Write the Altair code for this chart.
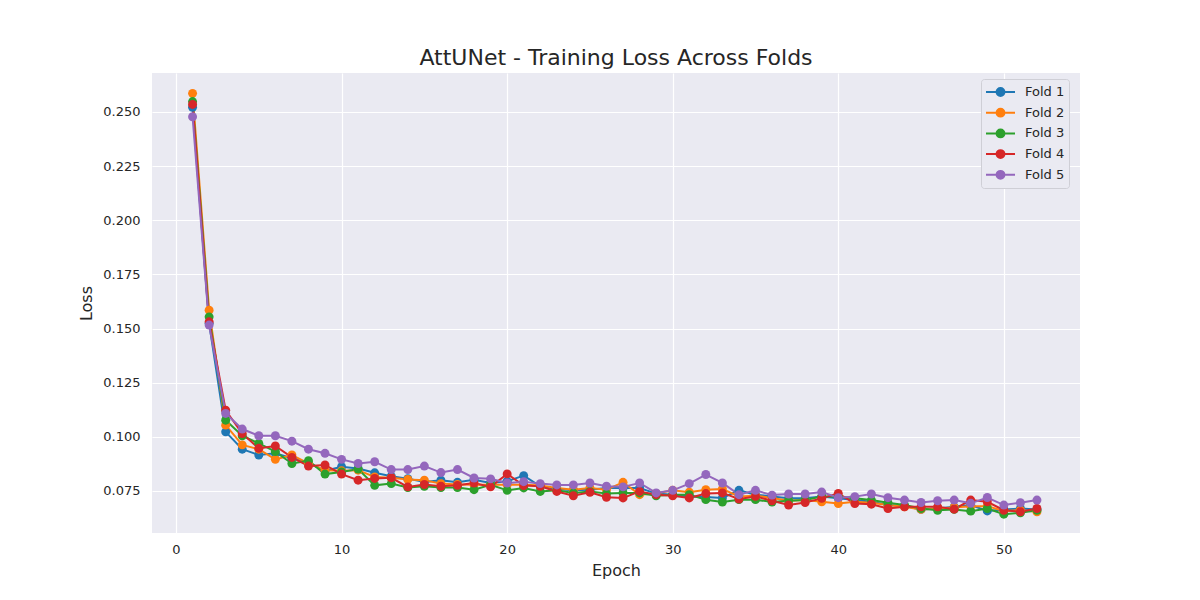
import pandas as pd
import altair as alt

epochs = list(range(1, 53))
folds = ['Fold 1', 'Fold 2', 'Fold 3', 'Fold 4', 'Fold 5']
colors = ['#1f77b4', '#ff7f0e', '#2ca02c', '#d62728', '#9467bd']

# losses, epoch 1..52
fold1 = [0.2522, 0.1524, 0.1023, 0.0943, 0.0916, 0.0924, 0.0901, 0.0880, 0.0843, 0.0862,
         0.0854, 0.0834, 0.0818, 0.0807, 0.0792, 0.0800, 0.0790, 0.0802, 0.0787, 0.0795,
         0.0821, 0.0772, 0.0759, 0.0753, 0.0756, 0.0764, 0.0764, 0.0764, 0.0738, 0.0733,
         0.0725, 0.0722, 0.0718, 0.0753, 0.0733, 0.0725, 0.0716, 0.0716, 0.0724, 0.0716,
         0.0708, 0.0700, 0.0685, 0.0680, 0.0665, 0.0669, 0.0677, 0.0685, 0.0658, 0.0665,
         0.0669, 0.0665]
fold2 = [0.2586, 0.1585, 0.1054, 0.0963, 0.0943, 0.0896, 0.0916, 0.0877, 0.0846, 0.0843,
         0.0846, 0.0815, 0.0811, 0.0803, 0.0800, 0.0784, 0.0780, 0.0779, 0.0779, 0.0779,
         0.0779, 0.0775, 0.0764, 0.0756, 0.0764, 0.0756, 0.0790, 0.0733, 0.0738, 0.0753,
         0.0744, 0.0756, 0.0759, 0.0725, 0.0728, 0.0718, 0.0705, 0.0708, 0.0700, 0.0692,
         0.0700, 0.0696, 0.0685, 0.0677, 0.0665, 0.0669, 0.0674, 0.0680, 0.0680, 0.0658,
         0.0661, 0.0654]
fold3 = [0.2548, 0.1554, 0.1077, 0.1005, 0.0970, 0.0932, 0.0877, 0.0890, 0.0828, 0.0838,
         0.0851, 0.0776, 0.0784, 0.0766, 0.0772, 0.0766, 0.0766, 0.0756, 0.0779, 0.0753,
         0.0764, 0.0748, 0.0753, 0.0741, 0.0748, 0.0738, 0.0741, 0.0741, 0.0728, 0.0733,
         0.0733, 0.0710, 0.0699, 0.0710, 0.0710, 0.0699, 0.0705, 0.0708, 0.0724, 0.0724,
         0.0716, 0.0708, 0.0696, 0.0685, 0.0669, 0.0661, 0.0665, 0.0657, 0.0669, 0.0643,
         0.0649, 0.0661]
fold4 = [0.2535, 0.1531, 0.1123, 0.1015, 0.0947, 0.0958, 0.0905, 0.0865, 0.0870, 0.0828,
         0.0800, 0.0808, 0.0811, 0.0769, 0.0780, 0.0772, 0.0776, 0.0787, 0.0769, 0.0829,
         0.0775, 0.0772, 0.0748, 0.0728, 0.0744, 0.0721, 0.0718, 0.0748, 0.0733, 0.0728,
         0.0718, 0.0738, 0.0741, 0.0713, 0.0725, 0.0705, 0.0685, 0.0697, 0.0716, 0.0739,
         0.0692, 0.0689, 0.0669, 0.0677, 0.0677, 0.0677, 0.0666, 0.0708, 0.0700, 0.0661,
         0.0654, 0.0669]
fold5 = [0.2478, 0.1516, 0.1108, 0.1036, 0.1005, 0.1005, 0.0980, 0.0943, 0.0924, 0.0896,
         0.0877, 0.0885, 0.0849, 0.0849, 0.0865, 0.0835, 0.0849, 0.0810, 0.0806, 0.0787,
         0.0793, 0.0784, 0.0778, 0.0778, 0.0787, 0.0772, 0.0769, 0.0787, 0.0741, 0.0753,
         0.0784, 0.0826, 0.0787, 0.0733, 0.0753, 0.0731, 0.0736, 0.0736, 0.0745, 0.0719,
         0.0724, 0.0736, 0.0719, 0.0708, 0.0697, 0.0705, 0.0708, 0.0693, 0.0720, 0.0685,
         0.0696, 0.0708]

x_ticks = [0, 10, 20, 30, 40, 50]
y_ticks = [0.075, 0.100, 0.125, 0.150, 0.175, 0.200, 0.225, 0.250]

# long format table
rows = []
for name, vals in zip(folds, [fold1, fold2, fold3, fold4, fold5]):
    for e, v in zip(epochs, vals):
        rows.append({'Epoch': e, 'Loss': v, 'Fold': name})
df = pd.DataFrame(rows)

# line with a dot in the middle, for the legend
legend_symbol = 'M-1,0L1,0M0.27,0A0.27,0.27,0,1,1,-0.27,0A0.27,0.27,0,1,1,0.27,0Z'

color = alt.Color('Fold:N', scale=alt.Scale(domain=folds, range=colors),
                  legend=alt.Legend(title=None, orient='none', legendX=829, legendY=6,
                                    symbolType=legend_symbol, symbolSize=841,
                                    symbolStrokeWidth=2, labelFontSize=13,
                                    labelFont='DejaVu Sans', labelColor='#262626',
                                    fillColor='#EAEAF2', strokeColor='#cfcfd6',
                                    cornerRadius=3, padding=4, clipHeight=18,
                                    rowPadding=2.7, labelOffset=9))

x = alt.X('Epoch:Q', scale=alt.Scale(domain=[-1.45, 54.6], nice=False, zero=False),
          axis=alt.Axis(values=x_ticks, format='d', title='Epoch'))
y = alt.Y('Loss:Q', scale=alt.Scale(domain=[0.0556, 0.2680], nice=False, zero=False),
          axis=alt.Axis(values=y_ticks, format='.3f', title='Loss'))

lines = alt.Chart(df).mark_line(strokeWidth=2).encode(x=x, y=y, color=color)
dots = alt.Chart(df).mark_circle(size=80, opacity=1).encode(x=x, y=y, color=color)

chart = alt.layer(lines, dots).properties(
    width=928, height=460,
    padding={'left': 144, 'top': 65, 'right': 112, 'bottom': 62},
    autosize=alt.AutoSizeParams(type='none'),
    title=alt.TitleParams('AttUNet - Training Loss Across Folds', fontSize=22,
                          font='DejaVu Sans', fontWeight='normal', color='#262626',
                          anchor='middle', offset=3)
).configure_view(
    fill='#EAEAF2', stroke=None
).configure_axis(
    grid=True, gridColor='white', gridWidth=1.2, domain=False, ticks=False,
    labelFont='DejaVu Sans', labelFontSize=13, labelColor='#262626',
    titleFont='DejaVu Sans', titleFontSize=16, titleFontWeight='normal',
    titleColor='#262626'
).configure_axisX(
    labelPadding=10, titlePadding=6
).configure_axisY(
    labelPadding=12, titlePadding=8
)

chart.save("out.html", embed_options={"renderer": "svg", "actions": False})
